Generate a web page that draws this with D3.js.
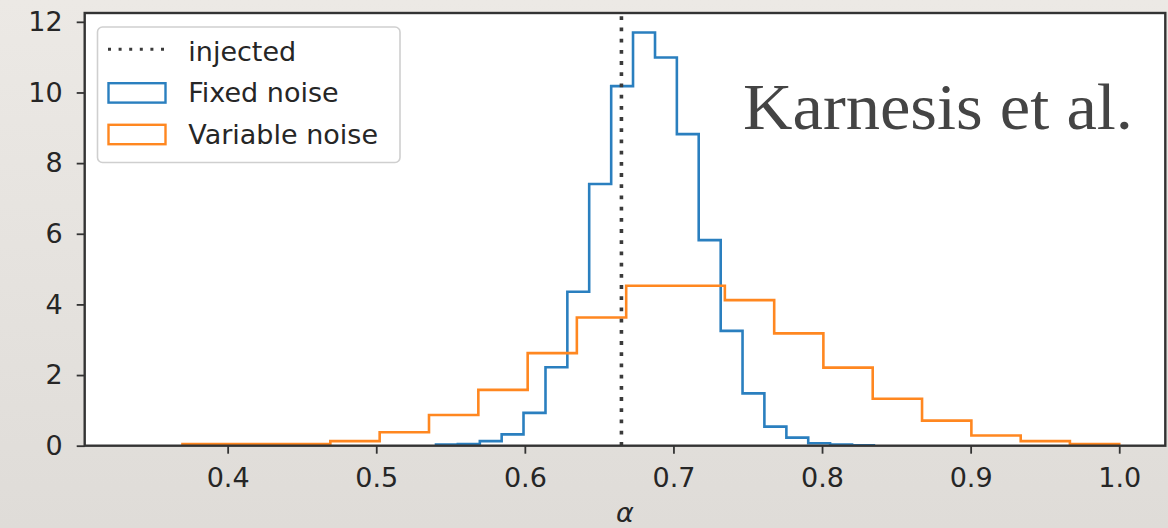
<!DOCTYPE html>
<html><head><meta charset="utf-8">
<script src="https://cdn.jsdelivr.net/npm/d3@7"></script>
<style>html,body{margin:0;padding:0;background:#e6e3df;}svg{display:block}</style>
</head><body><svg id="c" width="1168" height="528"></svg>
<script>
// ---- data ----
const fixedEdges = [0.5402,0.5549,0.5697,0.5844,0.5991,0.6139,0.6286,0.6433,0.6581,0.6728,0.6876,
                    0.7023,0.7170,0.7318,0.7465,0.7612,0.7760,0.7907,0.8054,0.8202,0.8349];
const fixedDensity = [0.03,0.05,0.13,0.32,0.93,2.22,4.36,7.41,10.18,11.70,10.99,
                      8.82,5.82,3.25,1.48,0.54,0.23,0.07,0.03,0.01];
const variableEdges = [0.3696,0.4028,0.4360,0.4691,0.5023,0.5355,0.5687,0.6019,0.6350,0.6682,
                       0.7014,0.7346,0.7678,0.8009,0.8341,0.8673,0.9005,0.9337,0.9668,1.0000];
const variableDensity = [0.05,0.05,0.05,0.13,0.38,0.87,1.58,2.62,3.63,4.53,
                         4.53,4.12,3.18,2.21,1.33,0.71,0.29,0.13,0.05];
const injected = 0.665;
const xTicks = [0.4,0.5,0.6,0.7,0.8,0.9,1.0];
const yTicks = [0,2,4,6,8,10,12];
const xDomain = [0.3038, 1.031];
const yDomain = [0, 12.25];
const legendLabels = ["injected","Fixed noise","Variable noise"];
const annotation = "Karnesis et al.";
const xLabel = "α";

// ---- layout ----
const W = 1168, H = 528;
const L = 84.7, R = 1165.3, T = 13, B = 445.7;
const blue = "#2a7fbf", orange = "#ff8720", ink = "#262626";

const svg = d3.select("#c");
const defs = svg.append("defs");
const grad = defs.append("linearGradient").attr("id","bg").attr("x1",0).attr("y1",0).attr("x2",0).attr("y2",1);
grad.append("stop").attr("offset","0%").attr("stop-color","#ece9e5");
grad.append("stop").attr("offset","100%").attr("stop-color","#dfdcd8");
svg.append("rect").attr("width",W).attr("height",H).attr("fill","url(#bg)");

defs.append("clipPath").attr("id","clip").append("rect")
  .attr("x",L).attr("y",T).attr("width",R-L).attr("height",B-T);

const x = d3.scaleLinear().domain(xDomain).range([L,R]);
const y = d3.scaleLinear().domain(yDomain).range([B,T]);

svg.append("rect").attr("x",L).attr("y",T).attr("width",R-L).attr("height",B-T).attr("fill","#fff");

function stepPoints(edges, vals){
  const pts = [[edges[0],0]];
  vals.forEach((v,i)=>{ pts.push([edges[i],v]); pts.push([edges[i+1],v]); });
  pts.push([edges[edges.length-1],0]);
  return pts;
}
const line = d3.line().x(d=>x(d[0])).y(d=>y(d[1]));
const g = svg.append("g").attr("clip-path","url(#clip)");
g.append("path").attr("d",line(stepPoints(fixedEdges,fixedDensity)))
  .attr("fill","none").attr("stroke",blue).attr("stroke-width",2.6).attr("stroke-linejoin","miter");
g.append("path").attr("d",line(stepPoints(variableEdges,variableDensity)))
  .attr("fill","none").attr("stroke",orange).attr("stroke-width",2.6).attr("stroke-linejoin","miter");
g.append("line").attr("x1",x(injected)).attr("x2",x(injected)).attr("y1",B).attr("y2",T)
  .attr("stroke","#3a3a3a").attr("stroke-width",3.6).attr("stroke-dasharray","3.8,7.4");

// axes
const fs = 27;
const xAxis = d3.axisBottom(x).tickValues(xTicks).tickFormat(d3.format(".1f")).tickSize(8).tickPadding(14);
const yAxis = d3.axisLeft(y).tickValues(yTicks).tickFormat(d3.format("d")).tickSize(8).tickPadding(14);
const gx = svg.append("g").attr("transform",`translate(0,${B})`).call(xAxis);
const gy = svg.append("g").attr("transform",`translate(${L},0)`).call(yAxis);
[gx,gy].forEach(a=>{
  a.select(".domain").remove();
  a.selectAll(".tick line").attr("stroke","#333").attr("stroke-width",1.8);
  a.selectAll(".tick text").attr("fill",ink).style("font-family","DejaVu Sans").style("font-size",fs+"px");
});
// spines
svg.append("rect").attr("x",L).attr("y",T).attr("width",R-L).attr("height",B-T)
  .attr("fill","none").attr("stroke","#333").attr("stroke-width",2.4);

// x label
svg.append("text").attr("x",(L+R)/2).attr("y",522).attr("text-anchor","middle")
  .style("font-family","DejaVu Sans").style("font-style","italic").style("font-size","27px")
  .attr("fill",ink).text(xLabel);

// annotation
svg.append("text").attr("x",743).attr("y",129).attr("textLength",390).attr("lengthAdjust","spacingAndGlyphs")
  .style("font-family","Liberation Serif").style("font-size","66px").attr("fill","#444").text(annotation);

// legend
const lg = svg.append("g");
lg.append("rect").attr("x",97.5).attr("y",27).attr("width",302.5).attr("height",135.5).attr("rx",5)
  .attr("fill","#fff").attr("fill-opacity",0.8).attr("stroke","#cfcfcf").attr("stroke-width",1.6);
const rowsY = [60.8,102.4,144];
lg.append("line").attr("x1",108).attr("x2",165).attr("y1",rowsY[0]-11.5).attr("y2",rowsY[0]-11.5)
  .attr("stroke","#3a3a3a").attr("stroke-width",3).attr("stroke-dasharray","3,7.6");
[[blue,1],[orange,2]].forEach(([c,i])=>{
  lg.append("rect").attr("x",108.5).attr("y",rowsY[i]-19.2).attr("width",57).attr("height",19.4)
    .attr("fill","none").attr("stroke",c).attr("stroke-width",2.4);
});
legendLabels.forEach((t,i)=>{
  lg.append("text").attr("x",188.3).attr("y",rowsY[i]).style("font-family","DejaVu Sans")
    .style("font-size",fs+"px").attr("fill",ink).text(t);
});
</script></body></html>
